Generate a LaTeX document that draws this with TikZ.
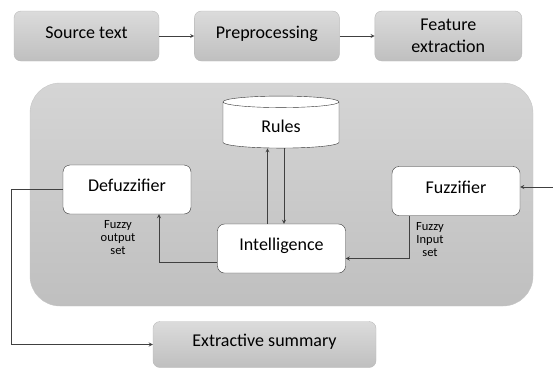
\documentclass[tikz,border=0pt]{standalone}
\usepackage{fontspec}
\setmainfont{Carlito}
\usetikzlibrary{shapes.geometric, arrows, positioning}

\begin{document}
\begin{tikzpicture}[x=1pt, y=-1pt, node distance=35pt, auto]
    \tikzstyle{process} = [rectangle, rounded corners=7pt, minimum width=145pt, minimum height=50pt, text centered, draw=gray!55, top color=gray!28, bottom color=gray!50, font=\fontsize{18}{22}\selectfont]
    \tikzstyle{block} = [rectangle, rounded corners=7pt, minimum width=128pt, minimum height=49pt, text centered, draw=black!80, fill=white, font=\fontsize{18}{22}\selectfont]
    \tikzstyle{store} = [cylinder, shape border rotate=90, aspect=0.25, minimum width=116pt, minimum height=52pt, draw=black!80, fill=white, font=\fontsize{18}{22}\selectfont]
    \tikzstyle{raised} = [text height=12pt, text depth=8pt]
    \tikzstyle{panel} = [rectangle, rounded corners=30pt, minimum width=503pt, minimum height=223pt, draw=gray!45, top color=gray!33, bottom color=gray!50]
    \tikzstyle{note} = [align=center, font=\fontsize{12.5}{13}\selectfont]
    \tikzstyle{arrow} = [->, >=stealth, line width=0.8pt, draw=black!75]
    \useasboundingbox (0,0) rectangle (553,368);

    % main pipeline
    \node (source) [process, raised] at (86.5,36) {Source text};
    \node (prep) [process, raised, right=35pt of source] {Preprocessing};
    \node (feat) [process, align=center, minimum width=147pt, right=35pt of prep] {Feature\\extraction};

    % fuzzy system
    \node (panel) [panel] at (281.5,194.5) {};
    \node (rules) [store] at (281,126) {Rules};
    \node (defuzz) [block, raised] at (127,189.5) {Defuzzifier};
    \node (fuzz) [block, raised] at (456,191) {Fuzzifier};
    \node (intel) [block, raised] at (281.5,248.5) {Intelligence};
    \node (outnote) [note] at (118,238) {Fuzzy\\output\\set};
    \node (innote) [note] at (430,240) {Fuzzy\\Input\\set};
    \coordinate (in) at (553,187);

    \node (summary) [process, raised, minimum width=223pt, minimum height=46pt] at (264.5,344.5) {Extractive summary};

    \draw [arrow] (source) -- (prep);
    \draw [arrow] (prep) -- (feat);
    \draw [arrow] ([xshift=-14pt]intel.north) -- ([xshift=-14pt]intel.north |- rules.south);
    \draw [arrow] ([xshift=3pt]rules.south) -- ([xshift=3pt]rules.south |- intel.north);
    \draw [arrow] ([yshift=-14pt]intel.west) -| ([xshift=32pt]defuzz.south);
    \draw [arrow] ([xshift=-47pt]fuzz.south) |- ([yshift=-10pt]intel.east);
    \draw [arrow] (in) -- (in -| fuzz.east);
    \draw [arrow] (defuzz.west) -- ++(-51,0) |- (summary.west);
\end{tikzpicture}
\end{document}
